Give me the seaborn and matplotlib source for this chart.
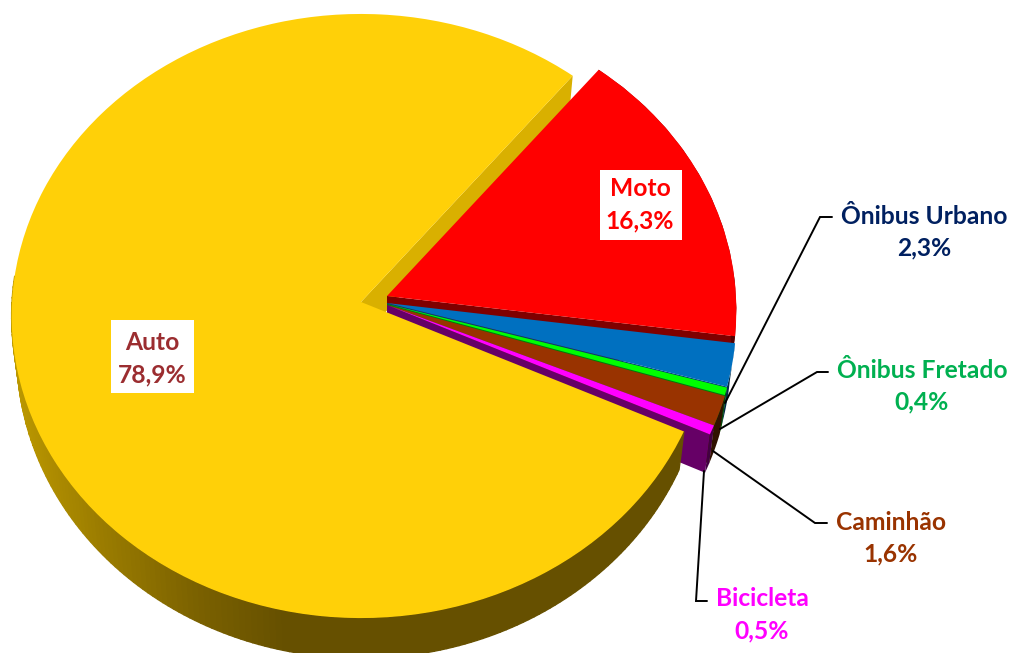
import matplotlib
matplotlib.use("Agg")
import matplotlib.pyplot as plt
import numpy as np
import seaborn as sns
from matplotlib.transforms import Transform

# dados (sentido horario a partir do fim do Auto)
categories = ["Auto", "Moto", "Ônibus Urbano", "Ônibus Fretado", "Caminhão", "Bicicleta"]
shares = [78.9, 16.3, 2.3, 0.4, 1.6, 0.5]
share_labels = ["78,9%", "16,3%", "2,3%", "0,4%", "1,6%", "0,5%"]

face_colors = ["#FFD008", "#FF0000", "#0070C0", "#00FF00", "#993300", "#FF00FF"]
wall_colors = ["#665000", "#7F0000", "#00406E", "#008000", "#4A1C00", "#660066"]
text_colors = ["#9B2D30", "#FF0000", "#002060", "#00B050", "#993300", "#FF00FF"]

# estilo / layout
START_ANGLE = -24.9
CX, CY, RX, RY, PERSP = 361, 302, 349, 301.4, 0.0464
WALL_H = 37
slice_shift = [(0, 0), (26, -6), (26, 1), (26, 2), (26, 3), (26, 3)]
label_xy = [(152, 343), (640, 189), (924, 216), (922, 370), (891, 522), (762, 599)]
LINE_GAP = 32
boxes = [(111, 320, 83, 73), (600, 170, 82, 70)]
leaders = {
    "Ônibus Urbano": ([832, 820, 725], [217, 217, 403]),
    "Ônibus Fretado": ([828, 817, 720], [372, 372, 429]),
    "Caminhão": ([827, 815, 713], [523, 523, 451]),
    "Bicicleta": ([707, 696, 704], [601, 601, 471]),
}
shade_x = [15, 100, 200, 285]
shade_rgb = [(0.74, 0.60, 0.0), (0.61, 0.49, 0.0), (0.48, 0.38, 0.0), (0.40, 0.314, 0.0)]


class Perspective(Transform):
    """Disco unitario -> pixels, com perspectiva; drop=True da a base da fatia."""
    input_dims = 2
    output_dims = 2

    def __init__(self, shift=(0, 0), drop=False):
        super().__init__()
        self.shift = shift
        self.drop = drop

    def transform_non_affine(self, values):
        x, y = np.asarray(values).T
        den = 1 + PERSP * y
        px = RX * x / den
        py = -RY * y / den
        if self.drop:
            px = px * 0.985
            py = py * 1.01 + WALL_H
        return np.column_stack([CX + self.shift[0] + px, CY + self.shift[1] + py])


def unit(theta):
    t = np.radians(theta)
    return np.column_stack([np.cos(t), np.sin(t)])


sns.set_theme(style="white")
fig, ax = plt.subplots(figsize=(10.11, 6.53), dpi=100)
fig.subplots_adjust(0, 0, 1, 1)

wedges, _ = ax.pie(shares, startangle=START_ANGLE, counterclock=False,
                   colors=sns.color_palette(face_colors),
                   wedgeprops={"linewidth": 0, "edgecolor": "none"})
ax.set_aspect("auto")
ax.set_xlim(0, 1011)
ax.set_ylim(653, 0)

# parede do corte superior do Auto
top = Perspective()
low = Perspective(drop=True)
edge = np.vstack([[[0, 0]], unit(wedges[0].theta1)])
ax.fill(*np.vstack([top.transform(edge), low.transform(edge[::-1])]).T,
        color="#D9B000", lw=0, zorder=1)

# fatias menores, de tras para frente
for i in range(1, len(shares)):
    w = wedges[i]
    top = Perspective(slice_shift[i])
    low = Perspective(slice_shift[i], drop=True)
    z = 2 + i
    edge = np.vstack([[[0, 0]], unit(w.theta1)])
    ax.fill(*np.vstack([top.transform(edge), low.transform(edge[::-1])]).T,
            color=wall_colors[i], lw=0, zorder=z)
    arc = unit(np.linspace(w.theta1, w.theta2, 12))
    dark = tuple(c * 0.65 for c in matplotlib.colors.to_rgb(wall_colors[i]))
    ax.fill(*np.vstack([top.transform(arc), low.transform(arc[::-1])]).T,
            color=dark, lw=0, zorder=z)
    w.set_transform(top + ax.transData)
    w.set_zorder(z + 0.5)

# parede externa do Auto, com degrade
top = Perspective()
low = Perspective(drop=True)
angles = np.linspace(175, 360 + START_ANGLE, 160)
for a0, a1 in zip(angles[:-1], angles[1:]):
    arc = unit(np.array([a0, a1]))
    poly = np.vstack([top.transform(arc), low.transform(arc[::-1])])
    xm = poly[:, 0].mean()
    rgb = [np.interp(xm, shade_x, [c[k] for c in shade_rgb]) for k in range(3)]
    ax.fill(*poly.T, facecolor=rgb, edgecolor=rgb, lw=1.0, zorder=8)
wedges[0].set_transform(top + ax.transData)
wedges[0].set_zorder(9)

for x, y, w, h in boxes:
    ax.add_patch(plt.Rectangle((x, y), w, h, color="white", lw=0, zorder=10))

for name, (xs, ys) in leaders.items():
    ax.plot(xs, ys, color="black", lw=1.4, zorder=7.5, solid_joinstyle="miter")

for name, pct, (x, y), col in zip(categories, share_labels, label_xy, text_colors):
    for txt, yy in ((name, y), (pct, y + LINE_GAP)):
        ax.text(x, yy, txt, color=col, fontsize=17.7, fontweight="bold", family="Lato",
                ha="center", va="center", zorder=11)

fig.savefig("out.png", dpi=100)
plt.close(fig)
